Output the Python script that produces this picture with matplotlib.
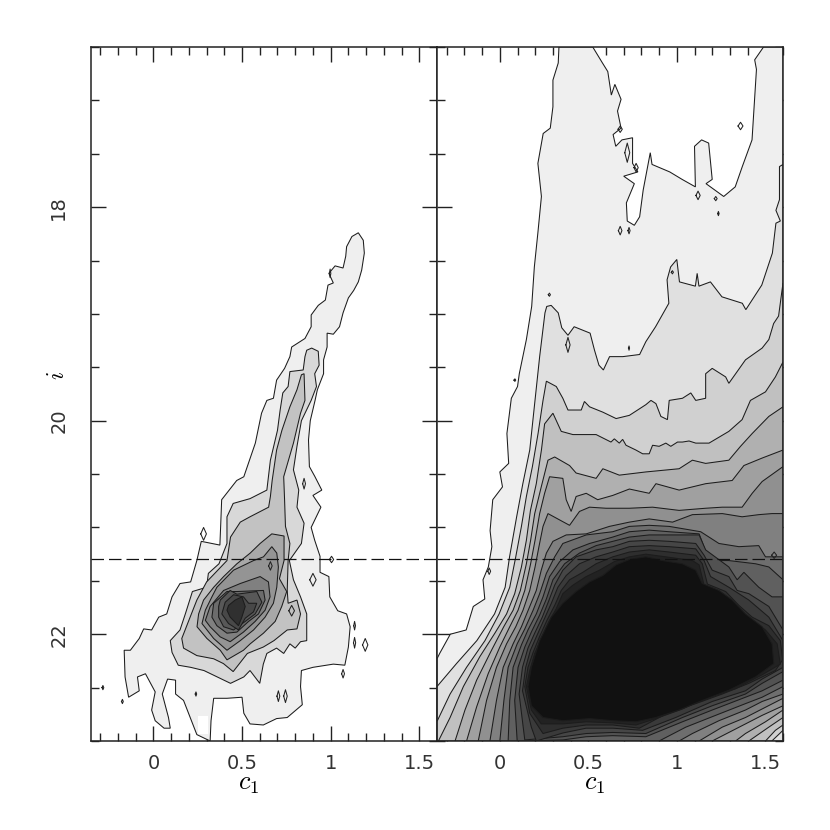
import matplotlib
matplotlib.use('Agg')
import matplotlib.pyplot as plt
from matplotlib.ticker import MultipleLocator, FixedLocator, FixedFormatter

plt.rcParams['mathtext.fontset'] = 'cm'

# contour outlines, as (c1, i)
left_1 = [(1.156,18.24),(1.184,18.31),(1.19,18.43),(1.175,18.59),(1.156,18.70),(1.13,18.78),(1.10,18.85),(1.07,18.99),
          (1.05,19.12),(1.015,19.19),(.98,19.18),(.98,19.31),(.96,19.43),(.96,19.56),(.925,19.71),(.912,19.81),(.885,20.0),
          (.875,20.18),(.88,20.43),(.91,20.52),(.95,20.65),(.90,20.70),(.945,20.81),(.89,21.0),(.91,21.12),(.94,21.27),
          (.94,21.42),(.99,21.46),(.995,21.65),(1.04,21.78),(1.09,21.81),(1.11,21.93),(1.10,22.12),(1.08,22.29),(1.015,22.28),
          (.90,22.31),(.835,22.34),(.83,22.49),(.84,22.66),(.755,22.78),(.695,22.79),(.62,22.85),(.545,22.84),(.51,22.74),
          (.50,22.59),(.415,22.60),(.34,22.60),(.325,22.81),(.32,23.0),(.245,22.94),(.17,22.62),(.125,22.56),(.125,22.43),
          (.08,22.42),(.05,22.56),(.085,22.78),(.095,22.88),(.06,22.88),(.01,22.81),(-.01,22.71),(.01,22.54),(-.045,22.37),
          (-.09,22.40),(-.08,22.53),(-.14,22.59),(-.16,22.40),(-.165,22.15),(-.13,22.15),(-.08,22.04),(-.055,21.95),
          (-.01,21.96),(.03,21.84),(.075,21.81),(.105,21.65),(.15,21.525),(.21,21.51),(.245,21.31),(.27,21.13),(.375,21.165),
          (.38,20.96),(.385,20.74),(.47,20.56),(.51,20.525),(.575,20.21),(.61,19.93),(.64,19.81),(.677,19.79),(.695,19.62),
          (.74,19.51),(.77,19.40),(.78,19.31),(.855,19.23),(.89,19.12),(.89,19.01),(.93,18.92),(.97,18.87),(.985,18.73),
          (1.015,18.71),(.99,18.62),(1.025,18.55),(1.07,18.57),(1.085,18.46),(1.09,18.37),(1.12,18.275)]
left_2 = [(.893,19.32),(.93,19.35),(.935,19.48),(.91,19.56),(.92,19.68),(.89,19.81),(.835,20.0),(.81,20.24),(.79,20.46),
          (.82,20.65),(.81,20.81),(.85,20.96),(.835,21.15),(.767,21.31),(.79,21.49),(.83,21.65),(.865,21.81),(.865,22.06),
          (.83,22.07),(.80,22.13),(.77,22.09),(.735,22.18),(.695,22.13),(.64,22.18),(.62,22.28),(.60,22.46),(.545,22.34),
          (.51,22.40),(.435,22.46),(.36,22.40),(.285,22.34),(.21,22.31),(.14,22.29),(.105,22.17),(.095,22.06),(.15,21.96),
          (.18,21.81),(.22,21.60),(.30,21.56),(.31,21.43),(.37,21.34),(.415,21.15),(.415,20.9),(.45,20.775),(.545,20.73),
          (.64,20.65),(.66,20.37),(.70,20.09),(.715,19.9),(.73,19.74),(.76,19.68),(.77,19.54),(.845,19.525),(.855,19.4),(.865,19.34)]
left_3 = [(.85,19.56),(.855,19.81),(.83,19.93),(.79,20.21),(.735,20.525),(.74,20.74),(.745,20.99),(.77,21.15),(.76,21.31),
          (.755,21.59),(.76,21.71),(.81,21.68),(.83,21.81),(.81,21.95),(.755,21.96),(.68,22.06),(.62,22.12),(.53,22.18),
          (.45,22.35),(.395,22.275),(.34,22.23),(.245,22.2),(.17,22.13),(.16,22.04),(.20,21.87),(.245,21.68),(.30,21.51),
          (.415,21.31),(.435,21.09),(.49,20.95),(.545,20.9),(.65,20.81),(.66,20.71),(.67,20.56),(.695,20.275),(.725,20.09),
          (.77,19.87),(.81,19.71),(.835,19.57)]
left_4 = [(.737,21.08),(.737,21.31),(.711,21.48),(.752,21.60),(.724,21.74),(.687,21.88),(.621,21.99),(.546,22.09),(.508,22.15),
          (.415,22.24),(.377,22.15),(.302,22.04),(.246,21.93),(.255,21.81),(.283,21.68),(.34,21.56),(.396,21.46),(.471,21.34),
          (.546,21.24),(.602,21.15),(.668,21.06)]
left_5 = [(.358,21.56),(.452,21.4),(.565,21.31),(.621,21.275),(.668,21.18),(.696,21.24),(.705,21.37),(.696,21.56),(.677,21.71),
          (.63,21.84),(.565,21.96),(.49,22.06),(.415,22.15),(.34,22.04),(.274,21.9),(.293,21.775),(.33,21.65)]
left_6 = [(.32,21.74),(.396,21.59),(.49,21.525),(.602,21.46),(.649,21.51),(.658,21.65),(.63,21.775),(.574,21.88),(.508,21.98),
          (.433,22.07),(.377,22.025),(.32,21.93),(.293,21.87)]
left_7 = [(.34,21.71),(.415,21.6),(.471,21.6),(.621,21.59),(.63,21.68),(.593,21.81),(.537,21.88),(.471,21.98),(.415,21.99),
          (.358,21.92),(.33,21.84)]
left_8 = [(.377,21.68),(.433,21.59),(.471,21.625),(.583,21.6),(.612,21.7),(.574,21.81),(.518,21.88),(.452,21.96),(.396,21.93),
          (.368,21.84),(.368,21.74)]
left_9 = [(.405,21.7),(.452,21.63),(.508,21.65),(.537,21.71),(.583,21.71),(.565,21.79),(.518,21.85),(.48,21.96),(.424,21.9),(.386,21.81)]
left_10 = [(.424,21.73),(.461,21.68),(.499,21.65),(.518,21.74),(.499,21.84),(.48,21.92),(.433,21.84),(.415,21.775)]
left_levels = [left_1, left_2, left_3, left_4, left_5, left_6, left_7, left_8, left_9, left_10]
left_greys = ['#efefef','#d8d8d8','#c2c2c2','#a8a8a8','#949494','#808080','#6c6c6c','#585858','#484848','#303030']
left_hole = [(.25,22.77),(.31,22.77),(.31,22.93),(.25,22.93)]

right_1 = [(.334,16.5),(.33,16.65),(.30,16.81),(.30,17.06),(.285,17.26),(.245,17.31),(.215,17.59),(.235,17.9),(.215,18.24),
           (.195,18.56),(.18,18.93),(.15,19.24),(.11,19.56),(.10,19.68),(.065,19.79),(.04,20.12),(.05,20.4),(0,20.48),(.015,20.62),
           (-.04,20.74),(-.055,21.03),(-.045,21.18),(-.065,21.37),(-.095,21.49),(-.085,21.67),(-.15,21.74),(-.19,21.96),(-.28,22.0),
           (-.34,22.18),(-.355,22.23),(-.355,23),(1.6,23),(1.6,16.5),(1.49,16.5),(1.44,16.62),(1.45,16.71),(1.425,17.37),(1.37,17.62),
           (1.33,17.81),(1.265,17.9),(1.165,17.78),(1.2,17.74),(1.18,17.4),(1.14,17.37),(1.10,17.43),(1.105,17.81),(1.03,17.74),
           (.96,17.67),(.86,17.6),(.85,17.49),(.81,17.84),(.79,18.09),(.76,18.17),(.72,18.13),(.715,17.96),(.76,17.78),(.70,17.71),
           (.78,17.67),(.75,17.59),(.75,17.35),(.69,17.37),(.655,17.43),(.64,17.32),(.685,17.26),(.665,17.1),(.685,16.99),(.65,16.85),
           (.63,16.95),(.61,16.73),(.58,16.65),(.525,16.5)]
right_2 = [(-.355,23),(-.355,22.49),(-.245,22.275),(-.13,22.06),(-.03,21.81),(.03,21.56),(.055,21.275),(.095,20.9),(.13,20.59),
           (.169,20.275),(.20,19.79),(.225,19.4),(.255,18.99),(.265,18.93),(.29,18.92),(.33,18.99),(.35,19.13),(.385,19.2),(.42,19.12),
           (.51,19.18),(.535,19.34),(.56,19.48),(.585,19.525),(.62,19.4),(.695,19.4),(.79,19.38),(.825,19.26),(.88,19.12),(.955,18.9),
           (.945,18.68),(.965,18.56),(1.0,18.49),(1.015,18.7),(1.105,18.74),(1.115,18.62),(1.125,18.74),(1.19,18.7),(1.255,18.84),
           (1.37,18.9),(1.39,18.96),(1.48,18.73),(1.54,18.43),(1.56,18.15),(1.585,18.13),(1.56,18.03),(1.58,17.93),(1.58,17.62),(1.6,17.6),(1.6,23)]
right_3 = [(-.353,22.81),(-.281,22.56),(-.188,22.31),(-.084,22.06),(-.004,21.81),(.056,21.56),(.09,21.275),(.122,20.99),(.15,20.71),
           (.184,20.43),(.216,20.12),(.244,19.81),(.263,19.63),(.319,19.68),(.356,19.79),(.385,19.9),(.46,19.9),(.478,19.82),(.507,19.87),
           (.582,19.92),(.657,19.98),(.732,19.95),(.825,19.85),(.854,19.81),(.882,19.84),(.91,19.96),(.947,19.99),(.957,19.81),(1.032,19.79),
           (1.079,19.74),(1.107,19.81),(1.163,19.79),(1.163,19.56),(1.2,19.51),(1.276,19.59),(1.294,19.65),(1.388,19.43),(1.482,19.32),
           (1.52,19.24),(1.547,19.09),(1.575,19.02),(1.6,18.71),(1.6,22.9),(1.537,23),(-.355,23),(-.355,22.81)]
right_4 = [(-.347,23),(-.281,22.78),(-.206,22.49),(-.113,22.21),(-.028,21.99),(.038,21.81),(.084,21.62),(.122,21.37),(.15,21.12),(.173,20.84),
           (.206,20.59),(.235,20.275),(.253,20.03),(.3,19.93),(.347,20.1),(.413,20.13),(.544,20.13),(.628,20.2),(.647,20.17),(.675,20.21),(.694,20.175),
           (.713,20.23),(.769,20.275),(.807,20.31),(.844,20.31),(.863,20.23),(.9,20.24),(.938,20.21),(.966,20.24),(1.004,20.2),(1.032,20.2),(1.069,20.19),
           (1.107,20.21),(1.182,20.21),(1.294,20.1),(1.369,19.99),(1.416,19.81),(1.501,19.73),(1.557,19.59),(1.6,19.45),(1.6,22.85),(1.557,22.9),(1.501,23)]
right_5 = [(-.253,23),(-.197,22.71),(-.131,22.43),(-.047,22.15),(.022,21.93),(.075,21.775),(.116,21.59),(.15,21.34),(.174,21.12),(.197,20.87),
           (.234,20.62),(.272,20.37),(.31,20.34),(.394,20.42),(.431,20.49),(.544,20.54),(.582,20.45),(.675,20.51),(.825,20.48),(1.013,20.45),
           (1.088,20.37),(1.163,20.4),(1.294,20.37),(1.36,20.24),(1.426,20.12),(1.52,19.96),(1.6,19.87),(1.6,22.78),(1.52,22.87),(1.407,23)]
right_6 = [(-.188,23),(-.131,22.68),(-.066,22.37),(0,22.12),(.056,21.93),(.103,21.775),(.141,21.59),(.174,21.34),(.199,21.12),(.225,20.87),
           (.253,20.68),(.281,20.525),(.356,20.54),(.375,20.74),(.403,20.85),(.431,20.71),(.488,20.68),(.553,20.74),(.638,20.7),(.732,20.64),
           (.844,20.68),(.882,20.59),(1.013,20.65),(1.163,20.59),(1.313,20.56),(1.379,20.42),(1.482,20.35),(1.6,20.275),(1.6,22.71),(1.501,22.82),
           (1.388,22.93),(1.332,23)]
right_7 = [(-.122,23),(-.075,22.62),(-.019,22.31),(.038,22.09),(.09,21.93),(.131,21.775),(.169,21.59),(.199,21.37),(.221,21.18),(.244,20.99),
           (.272,20.87),(.394,20.98),(.45,20.85),(.507,20.81),(.6,20.82),(.732,20.82),(.863,20.81),(1.013,20.84),(1.163,20.82),(1.257,20.81),
           (1.369,20.81),(1.426,20.68),(1.482,20.57),(1.6,20.43),(1.6,22.67),(1.482,22.76),(1.388,22.84),(1.294,22.92),(1.2,23)]
right_8 = [(-.056,23),(-.019,22.62),(.019,22.31),(.075,22.09),(.122,21.93),(.169,21.74),(.206,21.59),(.234,21.4),(.263,21.24),(.3,21.13),
           (.375,21.07),(.488,21.06),(.619,20.99),(.732,20.95),(.844,20.92),(.976,20.95),(1.088,20.88),(1.257,20.87),(1.369,20.9),(1.463,20.88),
           (1.538,20.87),(1.6,20.87),(1.6,22.6),(1.482,22.7),(1.388,22.78),(1.257,22.87),(1.126,23)]
right_9 = [(0,23),(.023,22.62),(.047,22.31),(.098,22.09),(.141,21.95),(.188,21.775),(.225,21.62),(.263,21.43),(.31,21.275),(.356,21.15),
           (.488,21.07),(.638,21.04),(.732,20.99),(.844,20.98),(.957,20.99),(1.135,21.04),(1.238,21.15),(1.351,21.18),(1.463,21.17),(1.501,21.275),
           (1.6,21.275),(1.6,22.56),(1.482,22.63),(1.388,22.71),(1.238,22.81),(1.088,22.93),(1.013,23)]
right_10 = [(.047,23),(.056,22.62),(.075,22.31),(.122,22.1),(.159,21.96),(.206,21.81),(.244,21.65),(.281,21.46),(.338,21.32),(.413,21.21),
            (.507,21.15),(.638,21.09),(.732,21.04),(.844,21.025),(.957,21.04),(1.126,21.06),(1.182,21.31),(1.294,21.31),(1.445,21.34),(1.52,21.37),
            (1.6,21.49),(1.6,22.49),(1.482,22.59),(1.388,22.65),(1.219,22.76),(1.051,22.87),(.9,23)]
right_11 = [(.098,23),(.084,22.62),(.103,22.31),(.141,22.12),(.178,21.98),(.225,21.82),(.263,21.67),(.3,21.49),(.366,21.34),(.45,21.24),
            (.544,21.17),(.638,21.13),(.732,21.09),(.844,21.07),(.957,21.07),(1.126,21.07),(1.163,21.21),(1.294,21.37),(1.341,21.49),(1.379,21.42),
            (1.463,21.56),(1.538,21.65),(1.6,21.65),(1.6,22.43),(1.482,22.53),(1.388,22.59),(1.2,22.71),(1.032,22.82),(.825,22.96),(.638,22.95),
            (.488,22.96),(.356,22.99)]
right_12 = [(.141,22.99),(.109,22.56),(.128,22.31),(.159,22.13),(.197,21.99),(.24,21.84),(.278,21.68),(.31,21.54),(.356,21.4),(.431,21.275),
            (.544,21.21),(.638,21.18),(.732,21.13),(.844,21.12),(.957,21.13),(1.107,21.15),(1.154,21.26),(1.2,21.4),(1.294,21.46),(1.341,21.59),
            (1.407,21.62),(1.52,21.74),(1.6,21.96),(1.6,22.35),(1.482,22.46),(1.388,22.56),(1.2,22.67),(1.032,22.78),(.825,22.93),(.638,22.92),
            (.488,22.93),(.356,22.96)]
right_13 = [(.206,23),(.178,22.87),(.128,22.53),(.146,22.31),(.173,22.15),(.21,22.01),(.253,21.85),(.291,21.71),(.328,21.56),(.375,21.45),
            (.45,21.34),(.544,21.275),(.638,21.23),(.732,21.18),(.844,21.17),(.957,21.18),(1.107,21.2),(1.154,21.31),(1.191,21.46),(1.294,21.56),
            (1.407,21.68),(1.52,21.84),(1.6,22.06),(1.6,22.31),(1.482,22.42),(1.388,22.53),(1.2,22.63),(.994,22.78),(.807,22.9),(.638,22.88),
            (.488,22.88),(.356,22.925)]
right_14 = [(.244,22.93),(.169,22.74),(.141,22.49),(.159,22.31),(.188,22.17),(.225,22.02),(.266,21.87),(.31,21.73),(.347,21.59),(.394,21.49),
            (.469,21.42),(.544,21.34),(.638,21.275),(.732,21.23),(.844,21.21),(.957,21.23),(1.107,21.26),(1.144,21.34),(1.173,21.53),(1.276,21.6),
            (1.351,21.73),(1.426,21.84),(1.52,21.92),(1.585,22.06),(1.598,22.24),(1.557,22.34),(1.407,22.46),(1.257,22.56),(1.107,22.65),(.957,22.73),
            (.788,22.88),(.638,22.85),(.488,22.85),(.356,22.88)]
right_15 = [(.234,22.84),(.178,22.71),(.15,22.49),(.169,22.34),(.197,22.18),(.234,22.04),(.278,21.88),(.319,21.76),(.356,21.62),(.413,21.54),
            (.488,21.46),(.563,21.4),(.647,21.32),(.732,21.275),(.825,21.25),(.938,21.275),(1.088,21.31),(1.126,21.35),(1.154,21.54),(1.257,21.63),
            (1.332,21.76),(1.407,21.85),(1.501,21.96),(1.567,22.09),(1.585,22.28),(1.482,22.38),(1.332,22.51),(1.163,22.6),(1.032,22.7),(.882,22.79),
            (.769,22.85),(.638,22.83),(.488,22.82),(.356,22.84)]
right_16 = [(.159,22.49),(.178,22.31),(.225,22.06),(.291,21.84),(.356,21.71),(.431,21.6),(.507,21.51),(.582,21.45),(.657,21.35),(.732,21.3),
            (.825,21.275),(.919,21.31),(1.032,21.34),(1.107,21.4),(1.144,21.525),(1.238,21.59),(1.313,21.68),(1.388,21.81),(1.482,21.93),(1.538,22.09),
            (1.548,22.275),(1.445,22.4),(1.294,22.525),(1.144,22.62),(1.013,22.71),(.882,22.78),(.769,22.82),(.638,22.81),(.507,22.79),(.356,22.81),
            (.244,22.78),(.178,22.67)]
right_levels = [right_1, right_2, right_3, right_4, right_5, right_6, right_7, right_8, right_9, right_10,
                right_11, right_12, right_13, right_14, right_15, right_16]
right_greys = ['#efefef','#e0e0e0','#d0d0d0','#c0c0c0','#b0b0b0','#a0a0a0','#909090','#808080','#6e6e6e','#606060',
               '#525252','#464646','#3a3a3a','#2e2e2e','#222222','#111111']

# little closed contours: c1, i, half width, half height
left_blob_c = [.283,1.005,.90,1.135,1.135,1.195,.705,.745,-.285,-.175,.24,1.07,.66,.78,.85,.997]
left_blob_i = [21.06,21.3,21.49,21.92,22.08,22.1,22.58,22.58,22.5,22.63,22.56,22.37,21.36,21.78,20.59,18.62]
left_blob_w = [.016,.012,.018,.005,.006,.015,.008,.01,.005,.005,.004,.008,.01,.016,.008,.004]
left_blob_h = [.06,.03,.06,.04,.05,.06,.05,.06,.02,.02,.02,.04,.04,.05,.05,.04]
right_blob_c = [1.36,.72,.68,.77,1.12,1.22,1.235,.68,.73,.28,.975,.385,.085,.73,1.55,-.06]
right_blob_i = [17.24,17.49,17.27,17.63,17.89,17.92,18.06,18.22,18.22,18.82,18.61,19.29,19.62,19.32,21.26,21.41]
right_blob_w = [.014,.014,.012,.012,.012,.008,.004,.01,.006,.006,.006,.012,.005,.003,.014,.008]
right_blob_h = [.035,.09,.03,.04,.04,.02,.02,.04,.03,.015,.015,.07,.012,.02,.03,.03]

dash_i = 21.3
x_ticks = [0, 0.5, 1, 1.5]
x_tick_labels = ['0', '0.5', '1', '1.5']
y_ticks = [18, 20, 22]
y_tick_labels = ['18', '20', '22']


def draw_panel(ax, levels, greys, blob_c, blob_i, blob_w, blob_h):
    for level, grey in zip(levels, greys):
        xs = [p[0] for p in level]
        ys = [p[1] for p in level]
        ax.fill(xs, ys, facecolor=grey, edgecolor='#1c1c1c', linewidth=0.75, zorder=2)
    for c, i, w, h in zip(blob_c, blob_i, blob_w, blob_h):
        ax.plot([c - w, c, c + w, c, c - w], [i, i - h, i, i + h, i], color='#222222', lw=0.75, zorder=3)
    ax.axhline(dash_i, color='#111111', lw=0.9, dashes=(10, 4), zorder=4)
    ax.set_xlim(-0.355, 1.6)
    ax.set_ylim(23, 16.5)
    ax.xaxis.set_major_locator(FixedLocator(x_ticks))
    ax.xaxis.set_major_formatter(FixedFormatter(x_tick_labels))
    ax.xaxis.set_minor_locator(MultipleLocator(0.1))
    ax.yaxis.set_major_locator(FixedLocator(y_ticks))
    ax.yaxis.set_minor_locator(MultipleLocator(0.5))
    ax.tick_params(which='major', direction='in', top=True, right=True, length=11, width=1.0, color='#222222')
    ax.tick_params(which='minor', direction='in', top=True, right=True, length=5.8, width=1.0, color='#222222')
    ax.tick_params(axis='x', which='major', labelsize=14, pad=9, labelcolor='#333333')
    for s in ax.spines.values():
        s.set_linewidth(1.1)
        s.set_color('#222222')
        s.set_zorder(6)
    ax.set_xlabel('$c_1$', fontsize=19)
    ax.xaxis.set_label_coords(0.456, -0.042)


fig = plt.figure(figsize=(8.3, 8.3), dpi=100)
ax1 = fig.add_axes([90.5 / 830, 89 / 830, 346.5 / 830, 694 / 830])
ax2 = fig.add_axes([437 / 830, 89 / 830, 346 / 830, 694 / 830])

draw_panel(ax1, left_levels, left_greys, left_blob_c, left_blob_i, left_blob_w, left_blob_h)
draw_panel(ax2, right_levels, right_greys, right_blob_c, right_blob_i, right_blob_w, right_blob_h)

ax1.fill([p[0] for p in left_hole], [p[1] for p in left_hole], facecolor='white', edgecolor='none', zorder=2.5)

ax1.yaxis.set_major_formatter(FixedFormatter(y_tick_labels))
ax1.tick_params(axis='y', which='major', labelsize=14, pad=16, labelcolor='#333333', labelrotation=90)
for t in ax1.get_yticklabels():
    t.set_va('center')
ax1.set_ylabel('$i$', fontsize=17, va='center')
ax1.yaxis.set_label_coords(-0.097, 0.527)
ax2.tick_params(axis='y', labelleft=False)

fig.savefig('out.png', dpi=100, facecolor='white')
